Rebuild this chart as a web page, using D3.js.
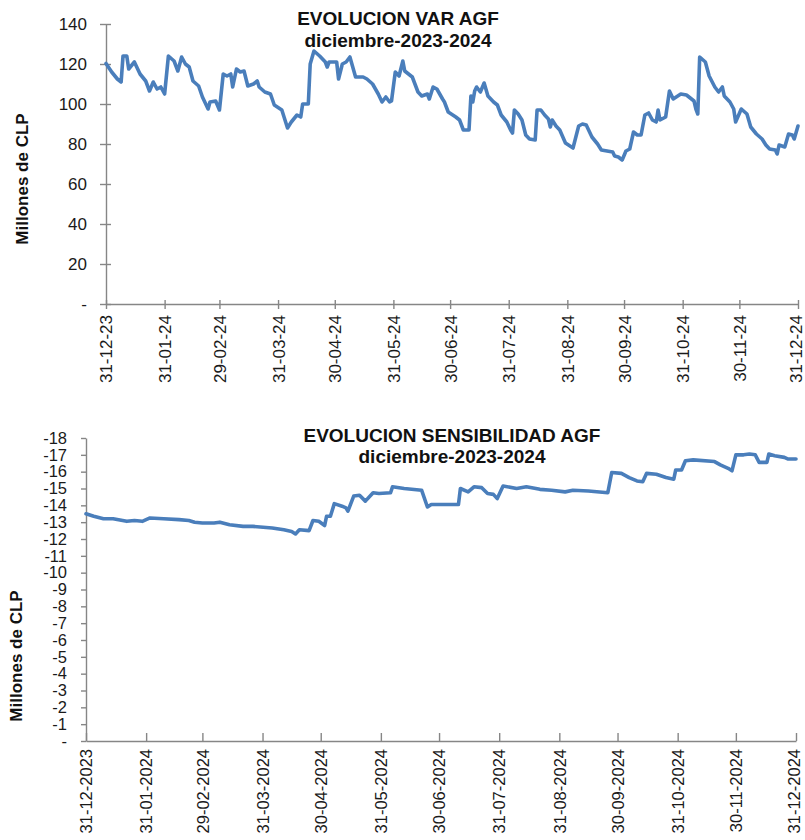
<!DOCTYPE html>
<html>
<head>
<meta charset="utf-8">
<script src="https://cdn.jsdelivr.net/npm/d3@7"></script>
<style>
  html, body { margin: 0; padding: 0; background: #ffffff; }
  svg { display: block; }
</style>
</head>
<body>
<svg id="chart" width="805" height="840"></svg>
<script>
// ---------------- DATA ----------------
const varDates = ["2023-12-31","2024-01-03","2024-01-06","2024-01-08","2024-01-09","2024-01-11","2024-01-12","2024-01-15","2024-01-18","2024-01-21","2024-01-23","2024-01-25","2024-01-27","2024-01-29","2024-01-31",
"2024-02-02","2024-02-05","2024-02-07","2024-02-09","2024-02-11","2024-02-13","2024-02-15","2024-02-18","2024-02-20","2024-02-23","2024-02-24","2024-02-27","2024-02-29",
"2024-03-02","2024-03-04","2024-03-06","2024-03-07","2024-03-09","2024-03-11","2024-03-13","2024-03-15","2024-03-18","2024-03-20","2024-03-21","2024-03-24","2024-03-27","2024-03-29",
"2024-04-02","2024-04-05","2024-04-07","2024-04-10","2024-04-12","2024-04-13","2024-04-16","2024-04-17","2024-04-19","2024-04-22","2024-04-25","2024-04-26","2024-04-27",
"2024-05-01","2024-05-02","2024-05-04","2024-05-06","2024-05-08","2024-05-11","2024-05-15","2024-05-17","2024-05-20","2024-05-23","2024-05-25","2024-05-27","2024-05-29","2024-05-30",
"2024-06-01","2024-06-03","2024-06-05","2024-06-06","2024-06-10","2024-06-13","2024-06-15","2024-06-18","2024-06-19","2024-06-21","2024-06-23","2024-06-26","2024-06-27","2024-06-29",
"2024-07-03","2024-07-05","2024-07-07","2024-07-10","2024-07-11","2024-07-12","2024-07-13","2024-07-14","2024-07-16","2024-07-18","2024-07-20","2024-07-23","2024-07-25","2024-07-27","2024-07-30",
"2024-08-01","2024-08-02","2024-08-03","2024-08-05","2024-08-07","2024-08-09","2024-08-11","2024-08-14","2024-08-15","2024-08-17","2024-08-19","2024-08-21","2024-08-22","2024-08-23","2024-08-25","2024-08-27","2024-08-30",
"2024-09-03","2024-09-06","2024-09-08","2024-09-10","2024-09-13","2024-09-16","2024-09-18","2024-09-21","2024-09-24","2024-09-25","2024-09-27","2024-09-29",
"2024-10-01","2024-10-03","2024-10-05","2024-10-07","2024-10-09","2024-10-11","2024-10-13","2024-10-15","2024-10-17","2024-10-18","2024-10-19","2024-10-22","2024-10-24","2024-10-26","2024-10-30",
"2024-11-02","2024-11-06","2024-11-07","2024-11-08","2024-11-09","2024-11-12","2024-11-14","2024-11-17","2024-11-19","2024-11-21","2024-11-22","2024-11-25","2024-11-27","2024-11-28",
"2024-12-01","2024-12-04","2024-12-06","2024-12-09","2024-12-12","2024-12-14","2024-12-16","2024-12-19","2024-12-20","2024-12-21","2024-12-24","2024-12-26","2024-12-28","2024-12-29","2024-12-31"];

const varValues = [120.3,116,112.5,111,124,124,117.5,121,115,111.5,106.5,111,107.5,108.5,105,
124,121.5,116.5,123.5,120,118.5,111.5,109,103.5,97.5,101,101.5,97,
115,114,115,108.5,117.5,116,116.5,109,110,111.5,108.5,106,105,99.5,
97,88,91,94.5,93.5,100,100,120,126.5,124,121,118.5,121,
121,112.5,120,121,123.5,113.5,113.5,112.5,110,105,101,103.5,101,101.5,
116,114,121.5,116.5,113.5,106,104,105,102.5,108.5,107.5,102.5,101,96,
93.5,92,87,87,104,101,106.5,108.5,106,110.5,104,101,99.5,94.5,91,
87,85.5,97,95,92,84.5,82.5,82,97,97,94.5,92.5,88.5,92,89,87,80.5,
78,89,90,89.5,83.5,80,77,76.5,76,74,73.5,72,
76.5,77.5,86,84.5,84.5,94.5,95.5,92,91,97,92,93.5,106.5,102.5,105,
104.5,101.5,97.5,95,123.5,121,114,108.5,106,108.5,104,101,97.5,91,
97.5,95,88.5,85,82.5,79.5,77.5,77,75,79.5,78.5,85,84.5,82.5,89];

const sensDates = ["2023-12-31","2024-01-04","2024-01-09","2024-01-14","2024-01-21","2024-01-25","2024-01-29",
"2024-02-02","2024-02-09","2024-02-17","2024-02-22","2024-02-25","2024-02-29",
"2024-03-06","2024-03-09","2024-03-14","2024-03-21","2024-03-26",
"2024-04-05","2024-04-11","2024-04-15","2024-04-17","2024-04-19","2024-04-24","2024-04-26","2024-04-29",
"2024-05-02","2024-05-03","2024-05-05","2024-05-07","2024-05-11","2024-05-13","2024-05-14","2024-05-17","2024-05-20","2024-05-23","2024-05-27","2024-05-30",
"2024-06-05","2024-06-06","2024-06-12","2024-06-21","2024-06-24","2024-06-26","2024-06-30",
"2024-07-10","2024-07-11","2024-07-15","2024-07-18","2024-07-22","2024-07-25","2024-07-28","2024-07-30",
"2024-08-02","2024-08-09","2024-08-14","2024-08-21","2024-08-27",
"2024-09-03","2024-09-07","2024-09-15","2024-09-25","2024-09-27",
"2024-10-02","2024-10-06","2024-10-10","2024-10-13","2024-10-15","2024-10-20","2024-10-25","2024-10-29","2024-10-30",
"2024-11-02","2024-11-04","2024-11-08","2024-11-19","2024-11-22","2024-11-26","2024-11-28","2024-11-30",
"2024-12-04","2024-12-07","2024-12-10","2024-12-12","2024-12-16","2024-12-17","2024-12-20","2024-12-25","2024-12-27","2024-12-31"];

const sensValues = [-13.5,-13.35,-13.2,-13.2,-13.05,-13.1,-13.05,
-13.25,-13.2,-13.15,-13.1,-13.0,-12.95,
-12.95,-13.0,-12.85,-12.75,-12.75,
-12.65,-12.55,-12.45,-12.3,-12.55,-12.5,-13.1,-13.05,
-12.8,-13.35,-13.35,-14.1,-13.95,-13.85,-13.65,-14.55,-14.6,-14.25,-14.75,-14.7,
-14.75,-15.1,-15.0,-14.9,-13.9,-14.05,-14.05,
-14.05,-15.0,-14.8,-15.1,-15.05,-14.7,-14.65,-14.4,
-15.15,-15.0,-15.1,-14.95,-14.9,
-14.8,-14.9,-14.85,-14.75,-15.95,
-15.9,-15.65,-15.45,-15.4,-15.9,-15.85,-15.65,-15.55,-16.1,
-16.1,-16.65,-16.7,-16.6,-16.4,-16.2,-16.05,-17.0,
-17.0,-17.05,-17.0,-16.55,-16.55,-17.05,-16.95,-16.85,-16.75,-16.75];

const tickDates = ["2023-12-31","2024-01-31","2024-02-29","2024-03-31","2024-04-30","2024-05-31","2024-06-30",
"2024-07-31","2024-08-31","2024-09-30","2024-10-31","2024-11-30","2024-12-31"];

const varTicks = [0,20,40,60,80,100,120,140];
const sensTicks = [0,-1,-2,-3,-4,-5,-6,-7,-8,-9,-10,-11,-12,-13,-14,-15,-16,-17,-18];

const titleVar = ["EVOLUCION VAR AGF", "diciembre-2023-2024"];
const titleSens = ["EVOLUCION SENSIBILIDAD AGF", "diciembre-2023-2024"];
const yLabel = "Millones de CLP";

// ---------------- DRAW ----------------
const parse = d3.utcParse("%Y-%m-%d");
const svg = d3.select("#chart");
const FONT = "'Liberation Sans', Arial, sans-serif";
const AXIS = "#868686";
const LINE = "#4a7ebb";

function styleAxis(g, fontSize) {
  g.attr("font-family", FONT).attr("font-size", fontSize);
  g.select(".domain").attr("stroke", AXIS).attr("stroke-width", 1.4);
  g.selectAll(".tick line").attr("stroke", AXIS).attr("stroke-width", 1.4);
  g.selectAll(".tick text").attr("fill", "#1a1a1a");
}

function drawChart(cfg) {
  const x = d3.scaleUtc().domain([parse(tickDates[0]), parse(tickDates[tickDates.length - 1])]).range([cfg.x0, cfg.x1]);
  const y = d3.scaleLinear().domain(cfg.yDomain).range([cfg.yBottom, cfg.yTop]);

  // Y axis
  const gy = svg.append("g").attr("transform", `translate(${cfg.x0},0)`)
    .call(d3.axisLeft(y).tickValues(cfg.yTicks).tickSizeInner(cfg.yTickOut).tickSizeOuter(0)
      .tickPadding(cfg.yPad).tickFormat(d => d === 0 ? "-" : String(d)));
  if (cfg.yTickIn > 0) gy.selectAll(".tick").append("line").attr("x2", cfg.yTickIn);
  styleAxis(gy, cfg.yFont);

  // X axis
  const gx = svg.append("g").attr("transform", `translate(0,${cfg.yBottom})`)
    .call(d3.axisBottom(x).tickValues(tickDates.map(parse)).tickSizeInner(cfg.xTickOut).tickSizeOuter(0)
      .tickFormat(d3.utcFormat(cfg.xFormat)));
  if (cfg.xTickIn > 0) gx.selectAll(".tick").append("line").attr("y2", -cfg.xTickIn);
  const nT = tickDates.length;
  gx.selectAll(".tick text")
    .attr("x", 0).attr("y", 0).attr("dy", "0.35em")
    .attr("text-anchor", "end")
    .attr("transform", (d, i) => `translate(${i === nT - 1 ? -2 : 0},${cfg.xLabelOff}) rotate(-90)`);
  styleAxis(gx, cfg.xFont);

  // Y axis title
  svg.append("text")
    .attr("transform", `translate(${cfg.yLabelX},${cfg.yLabelY}) rotate(-90)`)
    .attr("text-anchor", "middle")
    .attr("font-family", FONT).attr("font-weight", "bold").attr("font-size", 17)
    .attr("fill", "#111").text(yLabel);

  // Line
  const data = cfg.dates.map((d, i) => ({ date: parse(d), v: cfg.values[i] }));
  svg.append("path").datum(data)
    .attr("fill", "none").attr("stroke", LINE).attr("stroke-width", 3.6)
    .attr("stroke-linejoin", "round").attr("stroke-linecap", "round")
    .attr("d", d3.line().x(d => x(d.date)).y(d => y(d.v)));

  // Titles
  cfg.title.forEach((t, i) => {
    svg.append("text")
      .attr("x", cfg.titleX).attr("y", cfg.titleY[i])
      .attr("text-anchor", "middle")
      .attr("font-family", FONT).attr("font-weight", "bold").attr("font-size", 19)
      .attr("fill", "#111").text(t);
  });
}

drawChart({
  x0: 106, x1: 798, yBottom: 304, yTop: 24, yDomain: [0, 140], yTicks: varTicks,
  yTickOut: 6, yTickIn: 5, yPad: 13, yFont: 17,
  xTickOut: 5, xTickIn: 4, xLabelOff: 11, xFont: 17, xFormat: "%d-%m-%y",
  yLabelX: 28, yLabelY: 179,
  dates: varDates, values: varValues,
  title: titleVar, titleX: 398, titleY: [25, 47]
});

drawChart({
  x0: 86, x1: 796, yBottom: 741, yTop: 438, yDomain: [0, -18], yTicks: sensTicks,
  yTickOut: 5, yTickIn: 0, yPad: 14, yFont: 16.5,
  xTickOut: 0, xTickIn: 8, xLabelOff: 8, xFont: 16.5, xFormat: "%d-%m-%Y",
  yLabelX: 22, yLabelY: 656,
  dates: sensDates, values: sensValues,
  title: titleSens, titleX: 452, titleY: [442, 463]
});
</script>
</body>
</html>
